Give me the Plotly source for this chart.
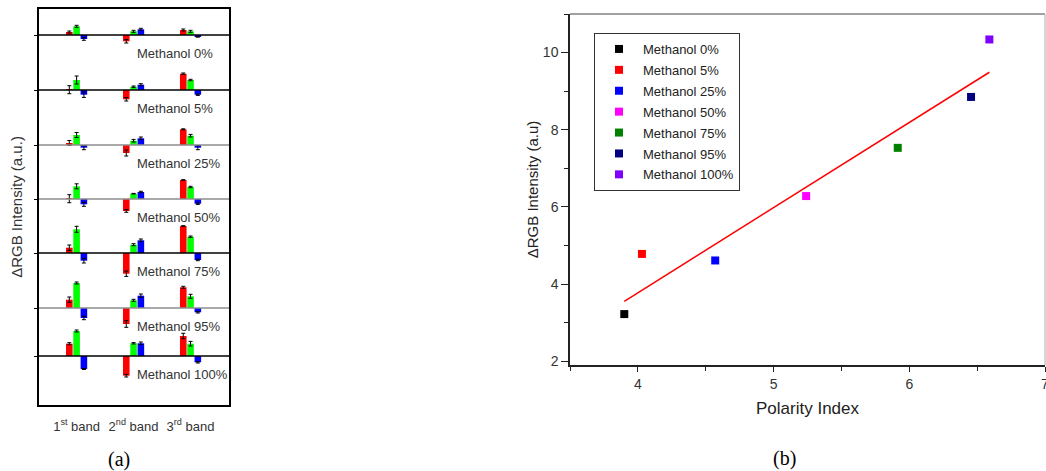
import numpy as np
import plotly.graph_objects as go

W, H = 1046, 471

# ---------------- Panel (a) data ----------------
BANDS = ["1<sup>st</sup> band", "2<sup>nd</sup> band", "3<sup>rd</sup> band"]
ROWS = ["Methanol 0%", "Methanol 5%", "Methanol 25%", "Methanol 50%",
        "Methanol 75%", "Methanol 95%", "Methanol 100%"]
ROW_OFFSET = [0, 55, 110, 164, 218, 273, 321]

RED = [[3, -6.3, 5], [0.3, -9.3, 16.3], [2, -8, 15.7], [0.3, -12, 19],
       [5.3, -20.7, 27], [8.3, -16, 20.7], [12.3, -19.7, 20]]
GREEN = [[8.7, 3.7, 3.7], [10, 3.3, 10], [10, 4.3, 9.3], [12.7, 5.3, 12],
         [23.7, 8.3, 16.3], [25, 7.7, 11.7], [25, 12.7, 12.3]]
BLUE = [[-4, 5.7, -1.7], [-4.7, 5.3, -4.7], [-2.7, 6.7, -2.7], [-5.3, 7, -4.7],
        [-7.7, 12.7, -7], [-10, 12.3, -4.3], [-13, 12.7, -6.3]]

RED_ERR = [[1, 1.7, 1], [4, 1.7, 0.7], [2.5, 3, 0.5], [4, 1.3, 0.3],
           [2.7, 2.7, 0.3], [2.7, 3.3, 1], [1, 1.3, 2.7]]
GREEN_ERR = [[1, 1, 1], [4, 0.7, 0.7], [2.5, 1.3, 1.3], [2.5, 0.3, 0.7],
             [3, 1, 0.7], [1, 1, 2], [1, 0.7, 2.3]]
BLUE_ERR = [[1.3, 1, 0.5], [2.7, 1, 0.7], [2, 1.3, 2], [2, 0.7, 0.7],
            [2.3, 1.3, 0.7], [1.7, 1.7, 0.7], [0.5, 1.3, 0.7]]

# ---------------- Panel (b) data ----------------
SOLVENTS = ["Methanol 0%", "Methanol 5%", "Methanol 25%", "Methanol 50%",
            "Methanol 75%", "Methanol 95%", "Methanol 100%"]
POLARITY = [3.9, 4.03, 4.57, 5.24, 5.915, 6.455, 6.59]
DRGB = [3.22, 4.78, 4.61, 6.28, 7.53, 8.85, 10.34]

# ---------------- styles ----------------
FONT = "Liberation Sans, Arial, sans-serif"
SERIF = "Liberation Serif, Times New Roman, serif"
BAR_COLORS = ["#ff0000", "#00ff00", "#0000ff"]
BAR_SHIFT = [-0.128, 0.0, 0.128]
BAR_WIDTH = 0.116
BASE_COLORS = ["black", "black", "#8c8c8c", "#8c8c8c", "black", "#8c8c8c", "black"]
PT_COLORS = ["#000000", "#ff0000", "#0000ff", "#ff00ff", "#008000", "#000080", "#8000ff"]

fig = go.Figure()

for ci, (vals, errs) in enumerate([(RED, RED_ERR), (GREEN, GREEN_ERR), (BLUE, BLUE_ERR)]):
    xs, ys, bases, es, tips = [], [], [], [], []
    for ri, off in enumerate(ROW_OFFSET):
        for bi in range(len(BANDS)):
            xs.append(bi + 1 + BAR_SHIFT[ci])
            ys.append(vals[ri][bi])
            bases.append(-off)
            es.append(errs[ri][bi])
            tips.append(-off + vals[ri][bi])
    fig.add_trace(go.Bar(x=xs, y=ys, base=bases, width=BAR_WIDTH,
                         marker=dict(color=BAR_COLORS[ci], line=dict(width=0)),
                         xaxis="x", yaxis="y", showlegend=False))
    fig.add_trace(go.Scatter(x=xs, y=tips, mode="markers",
                             marker=dict(size=1, opacity=0),
                             error_y=dict(type="data", array=es, visible=True,
                                          color="black", thickness=1, width=2),
                             xaxis="x", yaxis="y", showlegend=False, hoverinfo="skip"))

shapes = []
annotations = []
for ri, off in enumerate(ROW_OFFSET):
    shapes.append(dict(type="line", xref="x domain", yref="y", x0=0, x1=1,
                       y0=-off, y1=-off, line=dict(color=BASE_COLORS[ri], width=1.5)))
    annotations.append(dict(text=ROWS[ri], xref="x domain", yref="y", x=0.505, y=-off,
                            xanchor="left", yanchor="middle", yshift=-18, showarrow=False,
                            font=dict(family=FONT, size=13, color="#333333")))

# ---------------- Panel (b) ----------------
for i, name in enumerate(SOLVENTS):
    fig.add_trace(go.Scatter(x=[POLARITY[i]], y=[DRGB[i]], mode="markers", name=name,
                             legendgroup=name,
                             marker=dict(symbol="square", size=8, color=PT_COLORS[i]),
                             xaxis="x2", yaxis="y2"))

slope, intercept = np.polyfit(POLARITY, DRGB, 1)
fx = np.array([min(POLARITY), max(POLARITY)])
fig.add_trace(go.Scatter(x=fx, y=slope * fx + intercept, mode="lines",
                         line=dict(color="#ff0000", width=1.5),
                         xaxis="x2", yaxis="y2", showlegend=False))

shapes.append(dict(type="line", xref="x2 domain", yref="y2 domain", x0=0, x1=1, y0=1, y1=1,
                   line=dict(color="#444444", width=1)))
shapes.append(dict(type="line", xref="x2 domain", yref="y2 domain", x0=1, x1=1, y0=0, y1=1,
                   line=dict(color="#b0b0b0", width=1)))

annotations.append(dict(text="(a)", xref="paper", yref="paper", x=119 / W, y=1 - 459 / H,
                        xanchor="center", yanchor="middle", showarrow=False,
                        font=dict(family=SERIF, size=20, color="black")))
annotations.append(dict(text="(b)", xref="paper", yref="paper", x=784 / W, y=1 - 458 / H,
                        xanchor="center", yanchor="middle", showarrow=False,
                        font=dict(family=SERIF, size=20, color="black")))

fig.update_layout(
    width=W, height=H, margin=dict(l=0, r=0, t=0, b=0, autoexpand=False),
    paper_bgcolor="white", plot_bgcolor="white",
    barmode="overlay",
    font=dict(family=FONT, color="#333333"),
    xaxis=dict(domain=[39 / W, 229 / W], range=[0.34, 3.675], anchor="y",
               showline=True, mirror=True, linecolor="black", linewidth=2,
               showgrid=False, zeroline=False, ticks="", automargin=False,
               tickvals=[1, 2, 3], ticktext=BANDS, ticklabelstandoff=8,
               tickfont=dict(family=FONT, size=13, color="#333333")),
    yaxis=dict(domain=[1 - 405 / H, 1 - 9 / H], range=[-370, 26], anchor="x",
               showline=True, mirror=True, linecolor="black", linewidth=2,
               showgrid=False, zeroline=False, ticks="outside", ticklen=3,
               automargin=False,
               tickcolor="black", tickvals=[-o for o in ROW_OFFSET], showticklabels=False,
               title=dict(text="ΔRGB Intensity (a.u.)", standoff=8,
                          font=dict(family=FONT, size=15, color="#333333"))),
    xaxis2=dict(domain=[570 / W, 1045 / W], range=[3.5, 7], anchor="y2",
                showline=True, linecolor="#222222", linewidth=1.5, automargin=False,
                showgrid=False, zeroline=False, ticks="outside", ticklen=5,
                tickcolor="#222222", tickvals=[4, 5, 6, 7], ticklabeloverflow="allow",
                minor=dict(tickvals=[3.5, 4.5, 5.5, 6.5], ticks="outside", ticklen=4,
                           tickcolor="#222222"),
                tickfont=dict(family=FONT, size=14, color="#333333"),
                title=dict(text="Polarity Index", standoff=12,
                           font=dict(family=FONT, size=17, color="#222222"))),
    yaxis2=dict(domain=[1 - 365 / H, 1 - 14 / H], range=[1.9, 11], anchor="x2",
                showline=True, linecolor="#222222", linewidth=1.5, automargin=False,
                showgrid=False, zeroline=False, ticks="outside", ticklen=7,
                tickcolor="#222222", tickvals=[2, 4, 6, 8, 10],
                minor=dict(tickvals=[3, 5, 7, 9, 11], ticks="outside", ticklen=4,
                           tickcolor="#222222"),
                tickfont=dict(family=FONT, size=14, color="#333333"),
                title=dict(text="ΔRGB Intensity (a.u)", standoff=1,
                           font=dict(family=FONT, size=15, color="#222222"))),
    legend=dict(x=594 / W, y=1 - 33 / H, xanchor="left", yanchor="top",
                bordercolor="#333333", borderwidth=1, bgcolor="white",
                tracegroupgap=1, itemwidth=38,
                font=dict(family=FONT, size=13, color="#222222")),
    shapes=shapes, annotations=annotations,
)

fig.write_html("out.html")
